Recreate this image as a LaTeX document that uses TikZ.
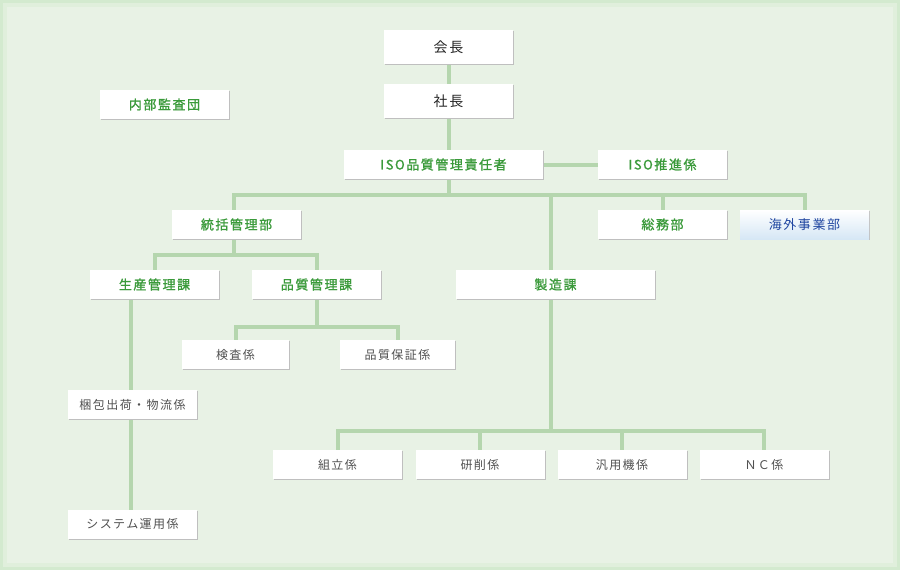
\documentclass[tikz,border=0pt]{standalone}
\usepackage{fontspec}
\newfontfamily\jp[LetterSpace=12]{Noto Sans CJK JP}
\newfontfamily\jpb[LetterSpace=12,FakeBold=1.3]{Noto Sans CJK JP}
\usepackage{tikz}
\usetikzlibrary{%
    shadows,%
    backgrounds%
}
\definecolor{bgGreen}{HTML}{E8F2E5}
\definecolor{rimGreen}{HTML}{D3EACF}
\definecolor{lineGreen}{HTML}{B5D6AE}
\definecolor{txtGreen}{HTML}{3A9A3A}
\definecolor{txtGrey}{HTML}{505050}
\definecolor{txtBlue}{HTML}{1F45A0}
\definecolor{paleBlue}{HTML}{D6E7F5}
\tikzset{
  unit/.style={fill=white, inner sep=0pt, minimum width=129pt, minimum height=29pt,
    drop shadow={shadow xshift=1.3pt, shadow yshift=-1.3pt, fill=black!25, opacity=1}},
  top/.style={unit, minimum height=34pt, font=\jp\fontsize{14}{14}\selectfont, text=black!85},
  dept/.style={unit, font=\jpb\fontsize{13}{13}\selectfont, text=txtGreen},
  sect/.style={unit, font=\jp\fontsize{12}{12}\selectfont, text=txtGrey},
  wide/.style={minimum width=199pt},
  link/.style={draw=lineGreen, line width=4pt}
}
\begin{document}
\begin{tikzpicture}[x=1pt, y=-1pt]
  \begin{scope}[on background layer]
    \fill[rimGreen] (0, 0) rectangle (900, 570);
    \fill[bgGreen!60!rimGreen] (3, 3) rectangle (897, 567);
    \fill[bgGreen] (7, 7) rectangle (893, 563);
  \end{scope}
  \node[top] (chair) at (448.5, 47) {会長};
  \node[top] (pres) at (448.5, 101) {社長};
  \node[dept] (audit) at (164.5, 104.5) {内部監査団};
  \node[dept, wide] (isoMgr) at (443.5, 164.5) {ISO品質管理責任者};
  \node[dept] (isoPro) at (662.5, 164.5) {ISO推進係};
  \node[dept] (ctrl) at (236.5, 224.5) {統括管理部};
  \node[dept] (affairs) at (662.5, 224.5) {総務部};
  \node[dept, top color=white, bottom color=paleBlue, text=txtBlue, font=\jp\fontsize{13}{13}\selectfont] (overseas) at (804.5, 224.5) {海外事業部};
  \node[dept] (prodCtl) at (154.5, 284.5) {生産管理課};
  \node[dept] (qualCtl) at (316.5, 284.5) {品質管理課};
  \node[dept, wide] (mfg) at (555.5, 284.5) {製造課};
  \node[sect, minimum width=107pt] (inspect) at (235.5, 354.5) {検査係};
  \node[sect, minimum width=115pt] (assure) at (397.5, 354.5) {品質保証係};
  \node[sect] (packing) at (132.5, 404.5) {梱包出荷・物流係};
  \node[sect] (system) at (132.5, 524.5) {システム運用係};
  \node[sect] (assembly) at (337.5, 464.5) {組立係};
  \node[sect] (grind) at (480, 464.5) {研削係};
  \node[sect] (general) at (622, 464.5) {汎用機係};
  \node[sect] (nc) at (764, 464.5) {ＮＣ係};
  \coordinate (busTop) at (450, 195);
  \coordinate (busCtrl) at (234, 255);
  \coordinate (busQual) at (316.5, 327);
  \coordinate (mfgHigh) at (551, 195);
  \coordinate (mfgLow) at (551, 431);
  \coordinate (prodLine) at (131, 290);
  \begin{scope}[on background layer]
    \draw[link] (chair) -- (pres) -- (pres |- busTop);
    \draw[link] (isoMgr) -- (isoPro);
    \draw[link] (busCtrl) -- (busCtrl |- busTop) -- (overseas |- busTop) -- (overseas);
    \draw[link] (affairs) -- (affairs |- busTop);
    \draw[link] (mfgHigh) -- (mfgLow);
    \draw[link] (prodCtl) -- (prodCtl |- busCtrl) -- (qualCtl |- busCtrl) -- (qualCtl);
    \draw[link] (qualCtl) -- (busQual);
    \draw[link] (inspect) -- (inspect |- busQual) -- (assure |- busQual) -- (assure);
    \draw[link] (prodLine) -- (prodLine |- system);
    \draw[link] (assembly) -- (assembly |- mfgLow) -- (nc |- mfgLow) -- (nc);
    \draw[link] (grind) -- (grind |- mfgLow);
    \draw[link] (general) -- (general |- mfgLow);
  \end{scope}
\end{tikzpicture}
\end{document}
